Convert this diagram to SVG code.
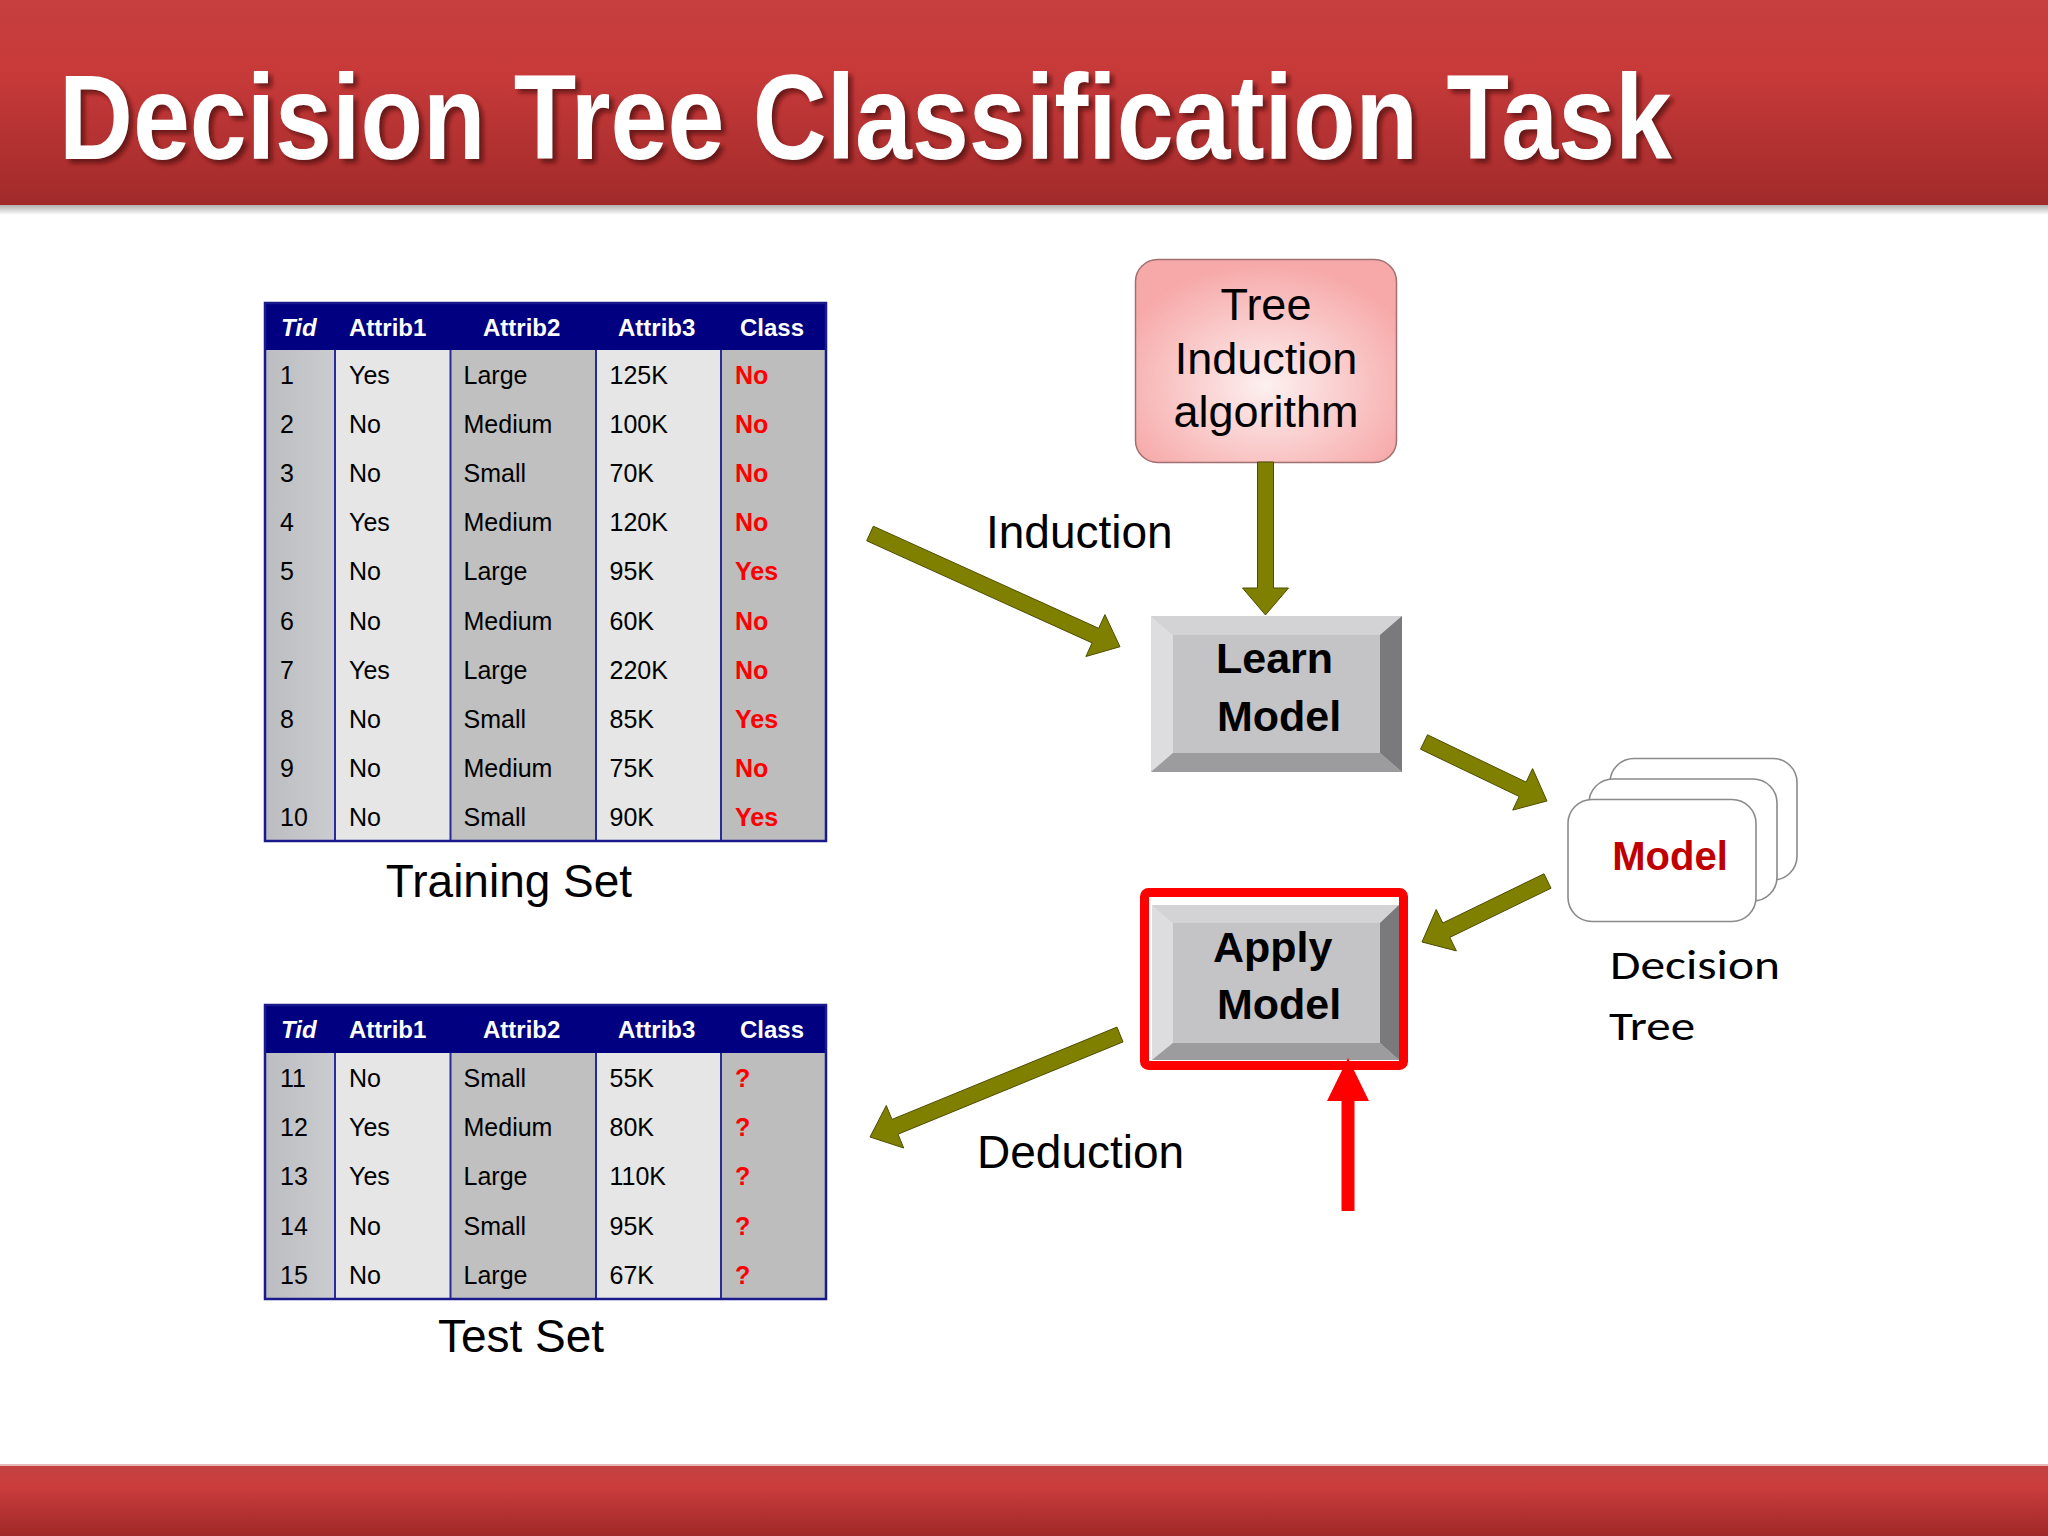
<svg xmlns="http://www.w3.org/2000/svg" width="2048" height="1536" viewBox="0 0 2048 1536">
<defs>
<linearGradient id="band" x1="0" y1="0" x2="0" y2="1">
<stop offset="0" stop-color="#c73f3f"/><stop offset="0.35" stop-color="#c83a3a"/><stop offset="1" stop-color="#a12a2a"/>
</linearGradient>
<linearGradient id="band2" x1="0" y1="0" x2="0" y2="1">
<stop offset="0" stop-color="#c44141"/><stop offset="0.3" stop-color="#cb3d3d"/><stop offset="1" stop-color="#a02828"/>
</linearGradient>
<linearGradient id="shadow" x1="0" y1="0" x2="0" y2="1">
<stop offset="0" stop-color="#a8a8a8"/><stop offset="1" stop-color="#ffffff"/>
</linearGradient>
<radialGradient id="pink" cx="0.5" cy="0.62" r="0.6">
<stop offset="0" stop-color="#fdf0f0"/><stop offset="1" stop-color="#f7a9a9"/>
</radialGradient>
<linearGradient id="tidg" x1="0" y1="0" x2="1" y2="0">
<stop offset="0" stop-color="#bcbdc0"/><stop offset="1" stop-color="#cbcccf"/>
</linearGradient>
<filter id="ts" x="-5%" y="-20%" width="110%" height="140%">
<feGaussianBlur stdDeviation="2"/>
</filter>
<style>
.t{font-family:"Liberation Sans",Arial,sans-serif;}
.h{font-family:"Liberation Sans",Arial,sans-serif;font-size:24px;font-weight:bold;fill:#fff;}
.c{font-family:"Liberation Sans",Arial,sans-serif;font-size:25px;fill:#000;}
.r{font-family:"Liberation Sans",Arial,sans-serif;font-size:25px;font-weight:bold;fill:#ff0000;}
.lbl{font-family:"Liberation Sans",Arial,sans-serif;font-size:46px;fill:#000;}
.btn{font-family:"Liberation Sans",Arial,sans-serif;font-size:43px;font-weight:bold;fill:#000;}
.arr{fill:#808000;stroke:#4d4d00;stroke-width:1;}
.sep{stroke:#2a2a9a;stroke-width:2;}
.card{fill:#fff;stroke:#8a8a8a;stroke-width:1.6;}
</style>
</defs>
<rect x="0" y="0" width="2048" height="1536" fill="#fff"/>

<g id="header">
<rect x="0" y="204" width="2048" height="11" fill="url(#shadow)"/>
<rect x="0" y="0" width="2048" height="205" fill="url(#band)"/>
<text x="63" y="163" class="t" font-size="121" font-weight="bold" fill="#4a0c0c" opacity="0.7" filter="url(#ts)" textLength="1613" lengthAdjust="spacingAndGlyphs">Decision Tree Classification Task</text>
<text x="59" y="159" class="t" font-size="121" font-weight="bold" fill="#fff" textLength="1613" lengthAdjust="spacingAndGlyphs">Decision Tree Classification Task</text>
</g>

<g id="footer">
<rect x="0" y="1465" width="2048" height="71" fill="url(#band2)"/>
<rect x="0" y="1464" width="2048" height="2" fill="#e8b8b8"/>
</g>

<g id="training-table">
<rect x="265" y="350" width="70" height="491" fill="url(#tidg)"/>
<rect x="335" y="350" width="115.5" height="491" fill="#e5e6e5"/>
<rect x="450.5" y="350" width="145.5" height="491" fill="#bfc0bf"/>
<rect x="596" y="350" width="125" height="491" fill="#e5e6e5"/>
<rect x="721" y="350" width="105" height="491" fill="#bdbdbe"/>
<rect x="265" y="303" width="561" height="47" fill="#000080"/>
<line x1="335" y1="350" x2="335" y2="841" class="sep"/>
<line x1="450.5" y1="350" x2="450.5" y2="841" class="sep"/>
<line x1="596" y1="350" x2="596" y2="841" class="sep"/>
<line x1="721" y1="350" x2="721" y2="841" class="sep"/>
<rect x="265" y="303" width="561" height="538" fill="none" stroke="#1a1a8c" stroke-width="2.5"/>
<text x="281" y="335.5" class="h" font-style="italic">Tid</text>
<text x="349" y="335.5" class="h">Attrib1</text>
<text x="483" y="335.5" class="h">Attrib2</text>
<text x="618" y="335.5" class="h">Attrib3</text>
<text x="740" y="335.5" class="h">Class</text>
<g class="c">
<text x="280" y="384">1</text><text x="349" y="384">Yes</text><text x="463.5" y="384">Large</text><text x="609.5" y="384">125K</text>
<text x="280" y="433.1">2</text><text x="349" y="433.1">No</text><text x="463.5" y="433.1">Medium</text><text x="609.5" y="433.1">100K</text>
<text x="280" y="482.2">3</text><text x="349" y="482.2">No</text><text x="463.5" y="482.2">Small</text><text x="609.5" y="482.2">70K</text>
<text x="280" y="531.3">4</text><text x="349" y="531.3">Yes</text><text x="463.5" y="531.3">Medium</text><text x="609.5" y="531.3">120K</text>
<text x="280" y="580.4">5</text><text x="349" y="580.4">No</text><text x="463.5" y="580.4">Large</text><text x="609.5" y="580.4">95K</text>
<text x="280" y="629.5">6</text><text x="349" y="629.5">No</text><text x="463.5" y="629.5">Medium</text><text x="609.5" y="629.5">60K</text>
<text x="280" y="678.6">7</text><text x="349" y="678.6">Yes</text><text x="463.5" y="678.6">Large</text><text x="609.5" y="678.6">220K</text>
<text x="280" y="727.7">8</text><text x="349" y="727.7">No</text><text x="463.5" y="727.7">Small</text><text x="609.5" y="727.7">85K</text>
<text x="280" y="776.8">9</text><text x="349" y="776.8">No</text><text x="463.5" y="776.8">Medium</text><text x="609.5" y="776.8">75K</text>
<text x="280" y="825.9">10</text><text x="349" y="825.9">No</text><text x="463.5" y="825.9">Small</text><text x="609.5" y="825.9">90K</text>
</g>
<g class="r">
<text x="735" y="384">No</text>
<text x="735" y="433.1">No</text>
<text x="735" y="482.2">No</text>
<text x="735" y="531.3">No</text>
<text x="735" y="580.4">Yes</text>
<text x="735" y="629.5">No</text>
<text x="735" y="678.6">No</text>
<text x="735" y="727.7">Yes</text>
<text x="735" y="776.8">No</text>
<text x="735" y="825.9">Yes</text>
</g>
<text x="509" y="897" class="lbl" text-anchor="middle">Training Set</text>
</g>

<g id="test-table">
<rect x="265" y="1053" width="70" height="246" fill="url(#tidg)"/>
<rect x="335" y="1053" width="115.5" height="246" fill="#e5e6e5"/>
<rect x="450.5" y="1053" width="145.5" height="246" fill="#bfc0bf"/>
<rect x="596" y="1053" width="125" height="246" fill="#e5e6e5"/>
<rect x="721" y="1053" width="105" height="246" fill="#bdbdbe"/>
<rect x="265" y="1005" width="561" height="48" fill="#000080"/>
<line x1="335" y1="1053" x2="335" y2="1299" class="sep"/>
<line x1="450.5" y1="1053" x2="450.5" y2="1299" class="sep"/>
<line x1="596" y1="1053" x2="596" y2="1299" class="sep"/>
<line x1="721" y1="1053" x2="721" y2="1299" class="sep"/>
<rect x="265" y="1005" width="561" height="294" fill="none" stroke="#1a1a8c" stroke-width="2.5"/>
<text x="281" y="1038" class="h" font-style="italic">Tid</text>
<text x="349" y="1038" class="h">Attrib1</text>
<text x="483" y="1038" class="h">Attrib2</text>
<text x="618" y="1038" class="h">Attrib3</text>
<text x="740" y="1038" class="h">Class</text>
<g class="c">
<text x="280" y="1087">11</text><text x="349" y="1087">No</text><text x="463.5" y="1087">Small</text><text x="609.5" y="1087">55K</text>
<text x="280" y="1136.2">12</text><text x="349" y="1136.2">Yes</text><text x="463.5" y="1136.2">Medium</text><text x="609.5" y="1136.2">80K</text>
<text x="280" y="1185.4">13</text><text x="349" y="1185.4">Yes</text><text x="463.5" y="1185.4">Large</text><text x="609.5" y="1185.4">110K</text>
<text x="280" y="1234.6">14</text><text x="349" y="1234.6">No</text><text x="463.5" y="1234.6">Small</text><text x="609.5" y="1234.6">95K</text>
<text x="280" y="1283.8">15</text><text x="349" y="1283.8">No</text><text x="463.5" y="1283.8">Large</text><text x="609.5" y="1283.8">67K</text>
</g>
<g class="r">
<text x="735" y="1087">?</text>
<text x="735" y="1136.2">?</text>
<text x="735" y="1185.4">?</text>
<text x="735" y="1234.6">?</text>
<text x="735" y="1283.8">?</text>
</g>
<text x="521" y="1352" class="lbl" text-anchor="middle">Test Set</text>
</g>

<g id="tree-induction">
<rect x="1135.5" y="259.5" width="261" height="203" rx="22" fill="url(#pink)" stroke="#a07070" stroke-width="1.5"/>
<text x="1266" y="320" class="t" font-size="45" text-anchor="middle">Tree</text>
<text x="1266" y="374" class="t" font-size="45" text-anchor="middle">Induction</text>
<text x="1266" y="427" class="t" font-size="45" text-anchor="middle">algorithm</text>
</g>

<g id="learn-model">
<rect x="1151" y="616" width="251" height="156" fill="#c4c4c6"/>
<polygon points="1151,616 1402,616 1380,635 1173,635" fill="#d3d3d5"/>
<polygon points="1151,616 1173,635 1173,753 1151,772" fill="#dddde0"/>
<polygon points="1402,616 1402,772 1380,753 1380,635" fill="#7a7a7c"/>
<polygon points="1151,772 1173,753 1380,753 1402,772" fill="#9c9c9e"/>
<text x="1216" y="673" class="btn">Learn</text>
<text x="1217" y="731" class="btn">Model</text>
</g>

<g id="apply-model">
<rect x="1144.5" y="892.5" width="259" height="173" rx="4" fill="#fff" stroke="#ff0000" stroke-width="9"/>
<rect x="1152" y="905" width="247" height="155" fill="#c4c4c6"/>
<polygon points="1152,905 1399,905 1380,923 1173,923" fill="#d3d3d5"/>
<polygon points="1152,905 1173,923 1173,1043 1152,1060" fill="#dddde0"/>
<polygon points="1399,905 1399,1060 1380,1043 1380,923" fill="#7a7a7c"/>
<polygon points="1152,1060 1173,1043 1380,1043 1399,1060" fill="#9c9c9e"/>
<text x="1213" y="962" class="btn">Apply</text>
<text x="1217" y="1019" class="btn">Model</text>
</g>

<g id="model">
<rect x="1610" y="758.5" width="187" height="121.5" rx="24" class="card"/>
<rect x="1589" y="779" width="188" height="122" rx="24" class="card"/>
<rect x="1568" y="799.5" width="188" height="122" rx="24" class="card"/>
<text x="1670" y="870" class="t" font-size="40" font-weight="bold" fill="#c00000" text-anchor="middle">Model</text>
<text x="1610" y="979" font-family="Carlito,'Open Sans','Noto Sans',sans-serif" font-size="42" fill="#000" textLength="170" lengthAdjust="spacingAndGlyphs">Decision</text>
<text x="1609" y="1040" font-family="Carlito,'Open Sans','Noto Sans',sans-serif" font-size="42" fill="#000" textLength="86" lengthAdjust="spacingAndGlyphs">Tree</text>
</g>

<g id="connectors">
<polygon class="arr" points="1257.5,462 1257.5,588 1242.5,588 1265.5,615 1288.5,588 1273.5,588 1273.5,462"/>
<polygon class="arr" points="866.7,540.8 1092.1,642.9 1085.9,656.5 1120,646.7 1104.9,614.6 1098.7,628.3 873.3,526.2"/>
<polygon class="arr" points="1420.5,749.2 1519.2,796.5 1512.7,810.1 1547,801 1532.6,768.6 1526.1,782.1 1427.5,734.8"/>
<polygon class="arr" points="1544,873.8 1442.8,923 1436.2,909.5 1422,942 1456.4,950.9 1449.8,937.4 1551,888.2"/>
<polygon class="arr" points="1117,1027.1 892,1119.4 886.3,1105.5 870,1137 903.7,1148 898,1134.2 1123,1041.9"/>
<polygon fill="#ff0000" points="1341.5,1211 1341.5,1101 1327,1101 1348,1058 1369,1101 1354.5,1101 1354.5,1211"/>
<text x="986" y="548" class="lbl">Induction</text>
<text x="977" y="1168" class="lbl">Deduction</text>
</g>
</svg>
